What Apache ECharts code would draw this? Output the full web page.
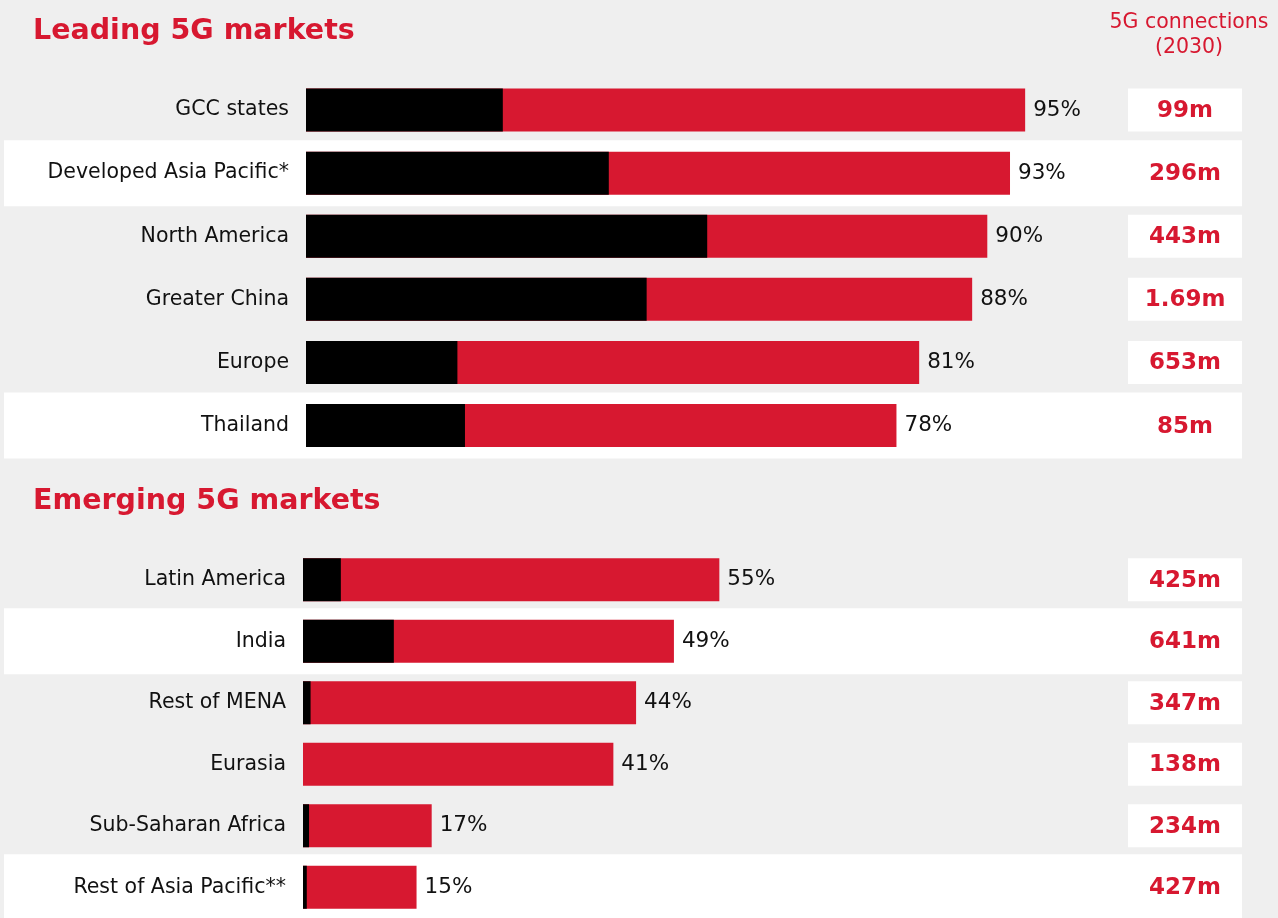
<!DOCTYPE html>
<html><head><meta charset="utf-8">
<script src="https://cdn.jsdelivr.net/npm/echarts@6/dist/echarts.min.js"></script>
<style>html,body{margin:0;padding:0;background:#efefef}#c{width:1278px;height:918px}</style>
</head><body><div id="c"></div>
<script>
const leadingCats = ['GCC states','Developed Asia Pacific*','North America','Greater China','Europe','Thailand'];
const leading2030 = [95,93,90,88,81,78];
const leadingNow = [26,40,53,45,20,21];
const leadingConn = ['99m','296m','443m','1.69m','653m','85m'];
const emergingCats = ['Latin America','India','Rest of MENA','Eurasia','Sub-Saharan Africa','Rest of Asia Pacific**'];
const emerging2030 = [55,49,44,41,17,15];
const emergingNow = [5,12,1,0,0.8,0.5];
const emergingConn = ['425m','641m','347m','138m','234m','427m'];
const highlightRows = [1,5];

const RED = '#d71830';
const FONT = '"DejaVu Sans", sans-serif';
const chart = echarts.init(document.getElementById('c'));

function yAx(i, cats){
  return {type:'category', gridIndex:i, data:cats, inverse:true,
    axisLine:{show:false}, axisTick:{show:false},
    axisLabel:{fontSize:20.5, color:'#111', margin:17, fontFamily:FONT}};
}
function xAx(i){ return {type:'value', gridIndex:i, min:0, max:100, show:false}; }
function seriesFor(i, total, now){
  return [
    {type:'bar', xAxisIndex:i, yAxisIndex:i, data:total, barWidth:43, barGap:'-100%',
     itemStyle:{color:RED}, silent:true,
     label:{show:true, position:'right', distance:8, formatter:'{c}%', fontSize:21.5, color:'#111', fontFamily:FONT}},
    {type:'bar', xAxisIndex:i, yAxisIndex:i, data:now, barWidth:43, barGap:'-100%',
     itemStyle:{color:'#000'}, silent:true}
  ];
}

chart.setOption({
  backgroundColor:'#efefef',
  animation:false,
  title:[
    {text:'Leading 5G markets', left:28, top:12, textStyle:{color:RED, fontSize:28.5, fontWeight:'bold', fontFamily:FONT}},
    {text:'Emerging 5G markets', left:28, top:482, textStyle:{color:RED, fontSize:28.5, fontWeight:'bold', fontFamily:FONT}},
    {text:'5G connections\n(2030)', left:1184, top:5, textAlign:'center',
     textStyle:{color:RED, fontSize:20.5, fontWeight:'normal', lineHeight:25, fontFamily:FONT}}
  ],
  grid:[
    {left:306, width:757, top:78.5, height:378.6},
    {left:303, width:757, top:549, height:377}
  ],
  xAxis:[xAx(0), xAx(1)],
  yAxis:[yAx(0, leadingCats), yAx(1, emergingCats)],
  series:[...seriesFor(0, leading2030, leadingNow), ...seriesFor(1, emerging2030, emergingNow)]
});

const gfx = [];
[[0, leadingCats, leadingConn],[1, emergingCats, emergingConn]].forEach(([gi, cats, conn])=>{
  cats.forEach((c, k)=>{
    const y = chart.convertToPixel({yAxisIndex:gi}, c);
    if (highlightRows.includes(k)) {
      gfx.push({type:'rect', z:-10, shape:{x:4, y:y-33, width:1238, height:66}, style:{fill:'#fff'}});
    } else {
      gfx.push({type:'rect', z:-10, shape:{x:1128, y:y-21.5, width:114, height:43}, style:{fill:'#fff'}});
    }
    gfx.push({type:'text', z:100, x:1185, y:y+1, style:{text:conn[k], fill:RED, fontSize:23, fontWeight:'bold',
      fontFamily:FONT, align:'center', verticalAlign:'middle'}});
  });
});
chart.setOption({graphic:gfx});
</script></body></html>
